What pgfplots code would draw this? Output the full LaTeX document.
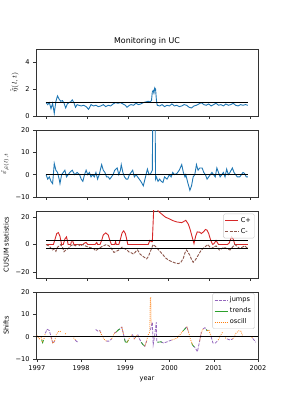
\documentclass[border=0pt]{standalone}
\usepackage{fontspec}
\setmainfont{DejaVu Sans}
\usepackage{pgfplots}
\pgfplotsset{compat=1.18}
\definecolor{tabblue}{HTML}{1F77B4}
\definecolor{tabred}{HTML}{D62728}
\definecolor{tabbrown}{HTML}{8C564B}
\definecolor{tabpurple}{HTML}{9467BD}
\definecolor{tabgreen}{HTML}{2CA02C}
\definecolor{taborange}{HTML}{FF7F0E}
\pgfplotsset{
  mpl/.style={
    scale only axis, width=222pt, height=67pt,
    axis line style={black!80, line width=0.6pt},
    tick style={black!80, line width=0.5pt},
    tick align=outside, major tick length=2.9pt, tick pos=left,
    tick label style={font=\fontsize{6.6}{7}\selectfont},
    label style={font=\fontsize{6.6}{7}\selectfont},
    /pgf/number format/assume math mode=true,
    /pgf/number format/1000 sep={},
    every axis plot/.append style={line width=0.9pt},
    unbounded coords=jump,
  },
  topx/.style={xmin=-12.35, xmax=259.35, xtick={0,50,...,250}, xticklabels={}},
  mpllegend/.style={legend style={font=\fontsize{6.6}{7}\selectfont, draw=black!20, rounded corners=1.5pt,
      fill=white, fill opacity=0.8, text opacity=1, inner sep=1.5pt, row sep=0.5pt},
    legend cell align=left,
    legend image code/.code={\draw[##1] (0pt,0pt) -- (13pt,0pt);}},
}
\begin{document}
\begin{tikzpicture}
\path[use as bounding box] (0,0) rectangle (287pt,410pt);
% ---------- panel 1
\begin{axis}[mpl, topx, at={(36pt,294pt)}, anchor=south west,
  ymin=0, ymax=5, ytick={0,2,4},
  title={Monitoring in UC}, title style={font=\fontsize{7.9}{9}\selectfont, yshift=-6pt},
  ylabel={$\hat{\tilde{\eta}}(l,t)$}]
\addplot[tabblue] coordinates {
(0,1.0)(2,0.85)(4,1.0)(6,0.55)(8,0.95)(10,0.2)(12,1.1)(14,1.5)(16,1.25)(18,1.1)(20,1.15)
(22,0.95)(24,0.6)(26,0.9)(28,1.0)(30,1.05)(32,1.2)(34,1.0)(36,0.65)(38,0.85)(40,0.8)
(43,0.75)(46,0.8)(49,0.7)(52,0.5)(55,0.85)(58,0.75)(61,0.8)(64,0.7)(67,0.75)(70,0.85)
(73,0.7)(76,0.8)(79,0.75)(82,0.9)(85,1.0)(88,0.95)(91,1.0)(94,0.9)(97,0.8)(99,0.65)
(102,0.8)(104,0.85)(107,0.8)(110,0.95)(113,0.85)(116,0.9)(119,1.0)(122,1.05)(125,1.1)
(127,1.05)(129,1.15)(130,1.8)(131,1.9)(132,1.7)(133,2.1)(134,2.0)(135,1.2)(136,0.8)
(139,0.75)(142,0.85)(145,0.7)(148,0.8)(151,0.75)(154,0.9)(157,0.75)(160,0.8)(163,0.7)
(166,0.75)(169,0.85)(172,0.8)(175,0.65)(178,0.6)(181,0.75)(184,0.8)(187,0.9)(190,1.0)
(193,0.85)(196,0.8)(199,0.9)(202,0.75)(205,0.85)(208,0.95)(211,0.8)(214,0.85)(217,0.75)
(220,0.9)(223,0.8)(226,0.85)(229,0.95)(232,0.8)(235,0.75)(238,0.85)(241,0.8)(244,0.85)(247,0.8)};
\addplot[black, line width=1.6pt] coordinates {(0,1)(247,1)};
\end{axis}
% ---------- panel 2
\begin{axis}[mpl, topx, at={(36pt,213pt)}, anchor=south west,
  ymin=-10, ymax=20, ytick={-10,0,10,20}, yticklabels={−10,0,10,20},
  ylabel={$\hat{\varepsilon}_{\hat{\mu}(l),t}$}]
\addplot[tabblue] coordinates {
(0,0)(2,-2)(4,-1)(6,-3)(8,-4)(10,5)(12,2)(14,1)(16,-2)(17,-4)(19,0)(21,1)(23,2)(25,-1)
(27,0)(29,1)(32,2)(35,0)(38,1)(41,0)(43,-2)(45,-3)(47,0)(49,2)(51,0)(53,1)(55,-1)(57,0)
(59,-1)(61,1)(63,-2)(65,0)(68,4.5)(70,2)(72,1)(74,-1)(76,-1)(78,-2)(80,-1)(82,0)(84,2)
(87,3)(89,0)(91,2)(92,4.5)(94,1)(96,-1)(98,-2)(100,-2)(102,0)(104,1)(106,2)(108,-1)
(110,0)(112,-1)(114,-2)(116,-3)(119,-5)(121,-2)(123,1)(124,2.5)(126,0)(128,0.5)(130,2)
(131,45)(133,45)(134,-2)(135,-1)(137,-3)(139,-2)(141,-3)(143,-3.5)(145,-1)(148,-2)
(151,0)(153,-1)(155,1)(157,0)(160,0.5)(163,2)(166,4.5)(168,1)(170,-1)(171,0)(173,-3)
(176,-7)(178,-5)(180,-1)(182,0)(184,4.5)(186,2)(188,3)(191,3)(193,1)(195,0)(197,-2)
(199,-1)(201,0)(203,1)(205,0)(207,-1)(209,3)(211,1)(213,-1)(215,0)(217,1)(219,-1)
(221,2.5)(223,0)(225,1)(228,3)(230,1)(232,0)(234,-1)(237,-1)(239,0)(241,1)(243,0.5)
(245,-1)(247,-1)};
\addplot[black, line width=1.6pt] coordinates {(0,0)(247,0)};
\end{axis}
% ---------- panel 3
\begin{axis}[mpl, mpllegend, topx, at={(36pt,132pt)}, anchor=south west,
  ymin=-24.5, ymax=24.5, ytick={-20,0,20}, yticklabels={−20,0,20},
  ylabel={CUSUM statistics},
  legend style={at={(0.985,0.96)}, anchor=north east}]
\addplot[tabred] coordinates {
(0,0)(9,0)(11,4)(13,8)(15,8.7)(17,6)(19,0)(21,0)(23,4)(25,5.6)(26,3)(27,0)(30,0)(31,2)
(33,2)(34,0)(45,0)(47,1)(49,1.5)(51,0)(60,0)(62,1.5)(63,0)(66,0)(68,3)(70,7)(73,8.5)
(76,7)(78,3)(80,0)(84,0)(85,2)(86,0)(89,0)(91,4)(93,8.5)(95,10)(97,8)(99,3)(100,0)
(125,0)(127,3)(129,2)(130,2)(132,30)(136,30)(137,24.5)(140,23)(143,21.5)(146,20)
(150,19)(155,17.5)(160,16.5)(166,16)(169,17)(171,17.7)(174,15)(176,11.6)(179,5)
(181,0.7)(183,6)(185,9.2)(188,9)(190,8)(193,9.5)(195,11)(197,10.5)(199,8)(201,4)
(203,1)(204,0)(206,1)(208,3)(209,2)(211,0)(222,0)(224,1)(227,5.6)(229,4)(231,0)(247,0)};
\addlegendentry{C+}
\addplot[tabbrown, dash pattern=on 3pt off 1.3pt] coordinates {
(0,0)(3,-1)(5,-2)(8,-4)(10,-3)(12,-5)(14,-2)(16,-1)(18,0)(20,-2)(22,-5.3)(24,-4)(27,-3)
(30,-1)(33,0)(36,-1)(39,0)(42,-1)(45,0)(48,-1)(52,-2)(55,-2.4)(58,-3)(61,-4.6)(64,-3)
(67,-2)(70,-1)(74,0)(77,-1)(80,-3)(83,-5.8)(86,-5)(89,-4)(91,-3)(93,-2)(96,-3)(99,-4)
(101,-5.3)(104,-6)(107,-7)(110,-5)(112,-4)(115,-7)(118,-8.5)(121,-9.7)(123,-10.5)
(125,-9)(127,-6)(129,-3)(131,0)(133,-1)(135,-2)(137,-3.5)(140,-5.5)(143,-7.5)(146,-9.7)
(150,-11.5)(154,-12.6)(158,-13.5)(162,-14)(165,-13)(168,-10)(170,-6)(172,-4)(174,-6)
(176,-8)(178,-11)(180,-13)(183,-11)(186,-8)(188,-6)(190,-4)(192,-3)(194,-2)(196,-1)
(198,0)(200,-1.5)(202,-3)(205,-2)(208,-1)(210,-2.5)(212,-4)(215,-3)(218,-2)(221,-3)
(225,-4)(228,-2)(231,0)(234,-1.5)(237,-3)(240,-2)(243,-1)(245,-2)(247,-3)};
\addlegendentry{C-}
\addplot[black, line width=1.3pt, forget plot] coordinates {(0,3)(247,3)};
\addplot[black, line width=1.3pt, forget plot] coordinates {(0,-3)(247,-3)};
\end{axis}
% ---------- panel 4
\begin{axis}[mpl, mpllegend, at={(36pt,51pt)}, anchor=south west,
  xmin=1996.98, xmax=2002, xtick={1997,1998,1999,2000,2001,2002},
  xticklabels={1997,1998,1999,2000,2001,2002},
  ymin=-10, ymax=20, ytick={-10,0,10,20}, yticklabels={−10,0,10,20},
  ylabel={Shifts}, xlabel={year},
  legend style={at={(0.985,0.985)}, anchor=north east}]
\addplot[tabpurple, line width=0.8pt, dash pattern=on 3pt off 1.3pt] coordinates {
(1997.19,1.5)(1997.23,3.3)(1997.28,2.8)(1997.32,0)(1997.36,-3)(1997.40,-2)(1997.41,nan)
(1997.87,-1.5)(1997.89,-2)(1997.93,-2.5)(1997.94,nan)
(1998.33,3.2)(1998.38,2.5)(1998.42,2.8)(1998.46,1)(1998.47,nan)
(1998.57,-2)(1998.63,-2)(1998.69,-1)(1998.70,nan)
(1998.75,1.5)(1998.80,2.2)(1998.84,3)(1998.88,3.5)(1998.92,4.3)(1998.96,1)(1999.00,-2.4)(1999.01,nan)
(1999.16,1)(1999.20,-1)(1999.24,0)(1999.25,nan)
(1999.28,1)(1999.32,-1)(1999.36,-2.5)(1999.40,-3.6)(1999.44,-4.3)(1999.48,-2)(1999.49,nan)
(1999.57,3)(1999.59,5)(1999.61,6.5)(1999.63,-3.5)(1999.66,0)(1999.70,6.5)(1999.71,-2)(1999.74,-2.5)(1999.75,nan)
(1999.80,-2.3)(1999.86,-2.8)(1999.92,-2.5)(1999.98,-2)(2000.05,-1.5)(2000.06,nan)
(2000.34,3.3)(2000.39,4.5)(2000.43,2)(2000.44,nan)
(2000.53,-4)(2000.58,-5)(2000.63,-6.7)(2000.68,-2)(2000.72,2)(2000.73,nan)
(2000.76,3.5)(2000.80,4)(2000.85,2.7)(2000.86,nan)
(2000.94,0)(2000.98,-2.8)(2001.04,-2.8)(2001.10,-1.5)(2001.11,nan)
(2001.30,-1)(2001.37,-1.5)(2001.43,-1)(2001.44,nan)
(2001.88,-0.8)(2001.92,-1.7)(2001.95,-2.5)};
\addlegendentry{jumps}
\addplot[tabgreen, line width=0.8pt] coordinates {
(1997.11,-1.5)(1997.13,-2.7)(1997.15,-1.5)(1997.16,nan)
(1998.80,2.2)(1998.84,3)(1998.88,3.5)(1998.89,nan)
(1998.98,-1)(1999.00,-2.4)(1999.04,-2.5)(1999.07,-1.5)(1999.08,nan)
(1999.36,-2.5)(1999.40,-3.6)(1999.43,-4)(1999.44,nan)
(1999.73,-2.3)(1999.74,-2.5)(1999.80,-2.3)(1999.83,-2.5)(1999.84,nan)
(2000.30,2.5)(2000.34,3.3)(2000.37,4)(2000.38,nan)
(2000.50,-3)(2000.53,-4)(2000.56,-4.6)(2000.57,nan)
(2000.83,3.2)(2000.85,2.7)(2000.88,2.9)};
\addlegendentry{trends}
\addplot[taborange, line width=0.8pt, dash pattern=on 0.8pt off 1.2pt] coordinates {
(1997.00,0.5)(1997.05,-1)(1997.10,-0.5)(1997.13,-2.7)(1997.14,nan)
(1997.16,-1)(1997.19,1.5)(1997.20,nan)
(1997.32,0)(1997.36,-3)(1997.40,-2)(1997.44,1)(1997.48,2.2)(1997.52,2.5)(1997.55,2)(1997.56,nan)
(1997.64,1.4)(1997.66,1.2)(1997.67,nan)
(1997.83,-0.5)(1997.85,-1)(1997.87,-1.5)(1997.88,nan)
(1998.42,2.8)(1998.46,1)(1998.51,-1)(1998.57,-2)(1998.58,nan)
(1998.69,-1)(1998.75,1.5)(1998.80,2.2)(1998.81,nan)
(1998.92,4.3)(1998.96,1)(1998.97,nan)
(1999.04,-2.5)(1999.08,-1)(1999.12,0.5)(1999.16,1)(1999.17,nan)
(1999.20,-1)(1999.24,0)(1999.28,1)(1999.29,nan)
(1999.44,-4.3)(1999.48,-2)(1999.52,1)(1999.55,2)(1999.565,17.5)(1999.575,17.5)(1999.585,5)(1999.59,nan)
(2000.05,-1.5)(2000.12,-1)(2000.18,-0.5)(2000.24,1)(2000.30,2.5)(2000.31,nan)
(2000.39,4.5)(2000.43,2)(2000.47,-1)(2000.53,-4)(2000.54,nan)
(2000.68,-2)(2000.72,2)(2000.76,3.5)(2000.77,nan)
(2000.85,2.7)(2000.89,3)(2000.94,0)(2000.95,nan)
(2001.10,-1.5)(2001.15,0.5)(2001.20,2)(2001.21,nan)
(2001.26,-0.5)(2001.30,-1)(2001.31,nan)
(2001.43,-1)(2001.50,1.5)(2001.56,2.6)(2001.61,2.5)(2001.66,0)(2001.67,nan)
(2001.86,-0.2)(2001.88,-0.8)};
\addlegendentry{oscill}
\addplot[black, line width=1.4pt, forget plot] coordinates {(1996.98,0)(2002,0)};
\end{axis}
\end{tikzpicture}
\end{document}
